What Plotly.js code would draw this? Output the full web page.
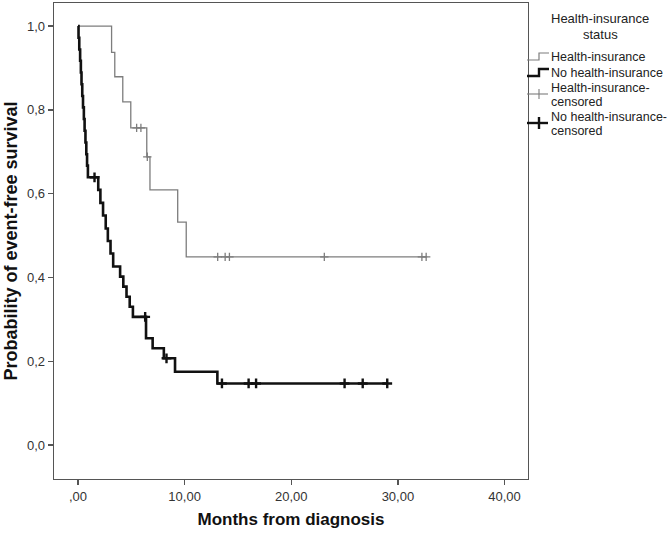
<!DOCTYPE html>
<html lang="en">
<head>
    <meta charset="UTF-8">
    <title>Event-free survival by health-insurance status</title>
    <script src="https://cdn.plot.ly/plotly-3.0.1.min.js"></script>
    <style>
        body { margin: 0; background: white; }
        #plot { width: 671px; height: 534px; }
    </style>
</head>
<body>
    <div id="plot"></div>
    <script>
        // Health-insurance group: step times (months) and survival after each step
        const insTimes = [0, 3.15, 3.45, 4.2, 4.95, 6.45, 6.75, 9.35, 10.15, 32.75];
        const insSurv  = [1.0, 0.937, 0.879, 0.819, 0.757, 0.688, 0.609, 0.532, 0.449, 0.449];
        const insCensTimes = [5.5, 5.9, 6.5, 13.1, 13.8, 14.2, 23.1, 32.25, 32.65];
        const insCensSurv  = [0.757, 0.757, 0.688, 0.449, 0.449, 0.449, 0.449, 0.449, 0.449];

        // No health-insurance group
        const noTimes = [0, 0.05, 0.12, 0.2, 0.27, 0.33, 0.4, 0.47, 0.55, 0.62, 0.7, 0.78, 0.85, 0.93,
            1.9, 2.1, 2.35, 2.6, 2.8, 3.05, 3.3,
            3.95, 4.25, 4.55, 4.85, 5.15,
            6.38, 7.0, 8.05, 9.1, 13.07, 29.0];
        const noSurv = [1.0, 0.972, 0.944, 0.917, 0.889, 0.861, 0.833, 0.806, 0.778, 0.75, 0.722, 0.694, 0.667, 0.639,
            0.609, 0.578, 0.548, 0.517, 0.487, 0.457, 0.426,
            0.402, 0.378, 0.354, 0.330, 0.306,
            0.255, 0.231, 0.207, 0.175, 0.147, 0.147];
        const noCensTimes = [1.55, 6.3, 8.3, 13.5, 16.0, 16.7, 25.0, 26.7, 29.0];
        const noCensSurv  = [0.639, 0.306, 0.207, 0.147, 0.147, 0.147, 0.147, 0.147, 0.147];

        const xTicks = [0, 10, 20, 30, 40];
        const xTickText = [',00', '10,00', '20,00', '30,00', '40,00'];
        const yTicks = [0, 0.2, 0.4, 0.6, 0.8, 1.0];
        const yTickText = ['0,0', '0,2', '0,4', '0,6', '0,8', '1,0'];

        const legendTitle = ['Health-insurance', 'status'];
        const legendLabels = [
            ['Health-insurance'],
            ['No health-insurance'],
            ['Health-insurance-', 'censored'],
            ['No health-insurance-', 'censored']
        ];

        const grey = '#7d7d7d';
        const dark = '#111111';
        const fontFam = 'Liberation Sans, Arial, sans-serif';

        // plot box in pixels, used to place the hand-drawn legend in paper coords
        const M = {l: 54, r: 143, t: 3, b: 55};
        const W = 671, H = 534;
        const pw = W - M.l - M.r, ph = H - M.t - M.b;
        const px = x => (x - M.l) / pw;
        const py = y => (H - M.b - y) / ph;

        const traces = [
            {
                x: insTimes, y: insSurv, type: 'scatter', mode: 'lines',
                line: {shape: 'hv', color: grey, width: 1.3},
                name: legendLabels[0][0]
            },
            {
                x: noTimes, y: noSurv, type: 'scatter', mode: 'lines',
                line: {shape: 'hv', color: dark, width: 2.6},
                name: legendLabels[1][0]
            },
            {
                x: insCensTimes, y: insCensSurv, type: 'scatter', mode: 'markers',
                marker: {symbol: 'cross-thin', size: 6, color: grey, line: {color: grey, width: 1.3}},
                name: legendLabels[2].join('')
            },
            {
                x: noCensTimes, y: noCensSurv, type: 'scatter', mode: 'markers',
                marker: {symbol: 'cross-thin', size: 7, color: dark, line: {color: dark, width: 2.4}},
                name: legendLabels[3].join('')
            }
        ];

        // legend: title, labels and step / cross symbols
        const annotations = [];
        legendTitle.forEach((t, i) => {
            annotations.push({
                xref: 'paper', yref: 'paper', x: px(600), y: py(19 + i * 16),
                text: t, showarrow: false, xanchor: 'center', yanchor: 'middle',
                font: {size: 13, color: '#222'}
            });
        });
        const labelRows = [[57], [73], [88, 102], [117, 131]];
        legendLabels.forEach((lines, i) => {
            lines.forEach((t, j) => {
                annotations.push({
                    xref: 'paper', yref: 'paper', x: px(549), y: py(labelRows[i][j]),
                    text: t, showarrow: false, xanchor: 'left', yanchor: 'middle',
                    font: {size: 12.5, color: '#222'}
                });
            });
        });

        const stepPath = (y0, col, w) => ({
            type: 'path', xref: 'paper', yref: 'paper',
            path: `M${px(527)},${py(y0 + 3)} L${px(539)},${py(y0 + 3)} L${px(539)},${py(y0 - 4)} L${px(549)},${py(y0 - 4)}`,
            line: {color: col, width: w}
        });
        const crossLines = (y0, col, w, half) => ([
            {type: 'line', xref: 'paper', yref: 'paper', x0: px(527), x1: px(548), y0: py(y0), y1: py(y0),
                line: {color: col, width: w}},
            {type: 'line', xref: 'paper', yref: 'paper', x0: px(539), x1: px(539), y0: py(y0 - half), y1: py(y0 + half),
                line: {color: col, width: w}}
        ]);
        const shapes = [
            stepPath(57, grey, 1.2),
            stepPath(73, dark, 2.4),
            ...crossLines(94, grey, 1.1, 5),
            ...crossLines(123, dark, 2.4, 6)
        ];

        const axisStyle = {
            showgrid: false,
            zeroline: false,
            showline: true,
            mirror: true,
            linecolor: '#555',
            linewidth: 1.3,
            ticks: 'outside',
            ticklen: 5,
            tickwidth: 1.3,
            tickcolor: '#555',
            tickfont: {family: fontFam, size: 13, color: '#333'}
        };

        const layout = {
            width: W,
            height: H,
            margin: {l: M.l, r: M.r, t: M.t, b: M.b, autoexpand: false},
            paper_bgcolor: 'white',
            plot_bgcolor: 'white',
            font: {family: fontFam, color: '#222'},
            showlegend: false,
            xaxis: Object.assign({}, axisStyle, {
                range: [-2.25, 42.2],
                tickvals: xTicks,
                ticktext: xTickText,
                title: {text: '<b>Months from diagnosis</b>', font: {size: 17, color: '#111'}, standoff: 10}
            }),
            yaxis: Object.assign({}, axisStyle, {
                range: [-0.081, 1.055],
                tickvals: yTicks,
                ticktext: yTickText,
                title: {text: '<b>Probability of event-free survival</b>', font: {size: 18, color: '#111'}, standoff: 4}
            }),
            annotations: annotations,
            shapes: shapes
        };

        Plotly.newPlot('plot', traces, layout, {displayModeBar: false, staticPlot: true});
    </script>
</body>
</html>
